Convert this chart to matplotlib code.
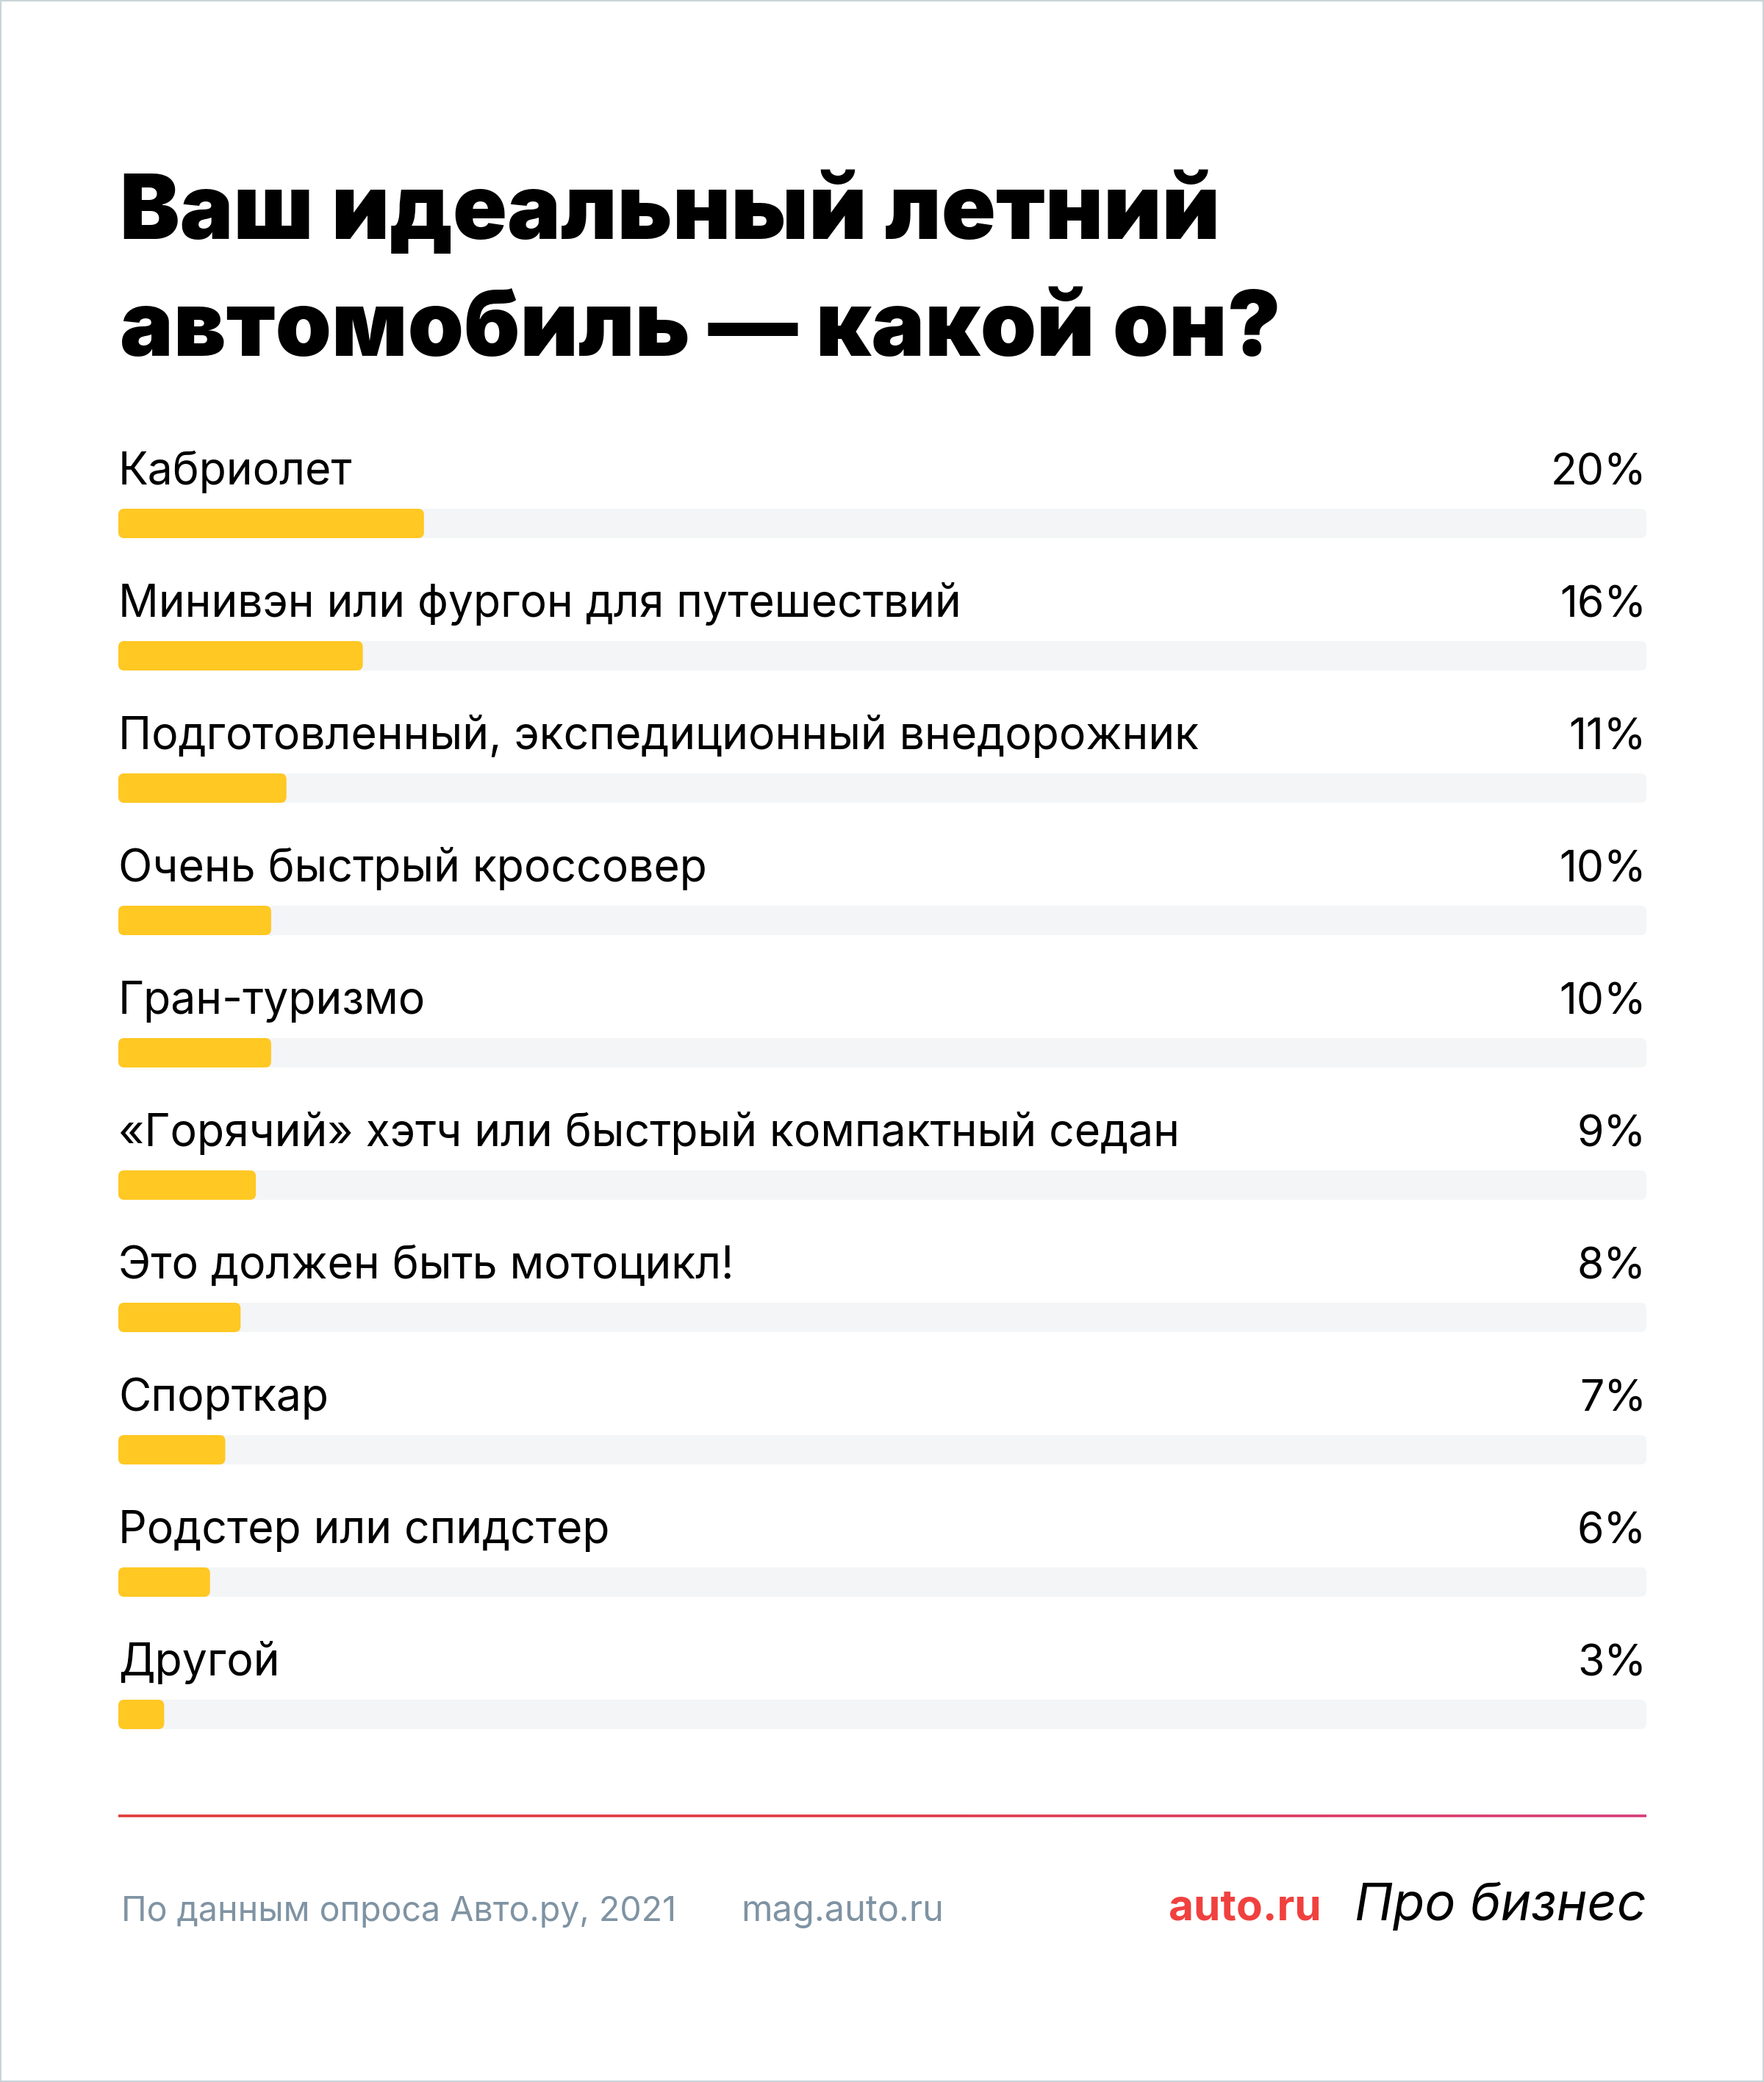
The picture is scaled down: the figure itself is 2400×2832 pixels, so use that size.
import matplotlib
matplotlib.use('Agg')
import matplotlib.pyplot as plt
from matplotlib.patches import FancyBboxPatch, Rectangle
from matplotlib.collections import LineCollection
import numpy as np

# survey data
categories = [
    'Кабриолет',
    'Минивэн или фургон для путешествий',
    'Подготовленный, экспедиционный внедорожник',
    'Очень быстрый кроссовер',
    'Гран-туризмо',
    '«Горячий» хэтч или быстрый компактный седан',
    'Это должен быть мотоцикл!',
    'Спорткар',
    'Родстер или спидстер',
    'Другой',
]
values = [20, 16, 11, 10, 10, 9, 8, 7, 6, 3]
value_labels = [f'{v}%' for v in values]

title_lines = ['Ваш идеальный летний', 'автомобиль — какой он?']
source_text = 'По данным опроса Авто.ру, 2021'
site_text = 'mag.auto.ru'

YELLOW = '#ffc823'
TRACK = '#f4f5f7'
GREY = '#7f93a3'
RED = '#f0413f'
FONTS = ['Inter', 'Noto Sans', 'DejaVu Sans']

W, H, DPI = 2400, 2832, 100
fig = plt.figure(figsize=(W / DPI, H / DPI), dpi=DPI)
fig.patch.set_facecolor('white')
renderer = fig.canvas.get_renderer()


def fx(px):
    return px / W


def fy(py):
    return 1 - py / H


def fit(t, width_px):
    # scale the font so the text is width_px wide
    w = t.get_window_extent(renderer).width
    t.set_fontsize(t.get_fontsize() * width_px / w)
    return t.get_fontsize()


# title
t1 = fig.text(fx(163), fy(325), title_lines[0], family=FONTS, weight='black',
              fontsize=80, va='baseline', ha='left')
title_fs = fit(t1, 1495)
fig.text(fx(163), fy(484), title_lines[1], family=FONTS, weight='black',
         fontsize=title_fs, va='baseline', ha='left')

# bars
left, right = 161, 2240
row = 180
first = 712
top_px = first - row / 2
bot_px = first + row * (len(values) - 0.5)
ax = fig.add_axes([fx(left), fy(bot_px), (right - left) / W, (bot_px - top_px) / H])
ax.set_xlim(0, 100)
ax.set_ylim(len(values) - 0.5, -0.5)
ax.axis('off')

ux = 100 / (right - left)   # x units per pixel
uy = 1 / row                # y units per pixel
bar_h = 40 * uy
radius = 8 * ux

# Inter runs a bit wider than the original face, so aim under the longest label
probe = ax.text(0, 0, categories[2], family=FONTS, fontsize=40)
label_fs = fit(probe, 1470)
probe.remove()

for i, (cat, v, lab) in enumerate(zip(categories, values, value_labels)):
    for width, color in [(100, TRACK), (v, YELLOW)]:
        ax.add_patch(FancyBboxPatch((0, i - bar_h / 2), width, bar_h,
                                    boxstyle=f'round,pad=0,rounding_size={radius}',
                                    mutation_aspect=uy / ux, fc=color, ec='none'))
    ax.text(0, i - 53 * uy, cat, family=FONTS, fontsize=label_fs,
            va='baseline', ha='left', color='black')
    ax.text(100, i - 53 * uy, lab, family=FONTS, fontsize=label_fs * 0.97,
            va='baseline', ha='right', color='black')

# red rule with slight gradient to the right
xs = np.linspace(fx(161), fx(2240), 201)
segs = [[(xs[k], fy(2470)), (xs[k + 1], fy(2470))] for k in range(len(xs) - 1)]
cmap = matplotlib.colors.LinearSegmentedColormap.from_list('rule', ['#e03a3a', '#e03a45', '#d63c78'])
rule = LineCollection(segs, transform=fig.transFigure, linewidths=2.6,
                      colors=cmap(np.linspace(0, 1, len(segs))))
fig.add_artist(rule)

# footer
s = fig.text(fx(165), fy(2613), source_text, family=FONTS, color=GREY,
             fontsize=30, va='baseline', ha='left')
fit(s, 755)
m = fig.text(fx(1008), fy(2613), site_text, family=FONTS, color=GREY,
             fontsize=30, va='baseline', ha='left')
fit(m, 276)
a = fig.text(fx(1590), fy(2611), 'auto.ru', family=FONTS, color=RED, weight='bold',
             fontsize=40, va='baseline', ha='left')
fit(a, 208)
p = fig.text(fx(1843), fy(2612), 'Про бизнес', family=FONTS, color='black',
             style='italic', fontsize=40, va='baseline', ha='left')
fit(p, 397)

# thin frame
fig.add_artist(Rectangle((0, 0), 1, 1, transform=fig.transFigure, fill=False,
                         ec='#c9d4d7', lw=3))

fig.savefig('out.png', dpi=DPI)
plt.close(fig)
